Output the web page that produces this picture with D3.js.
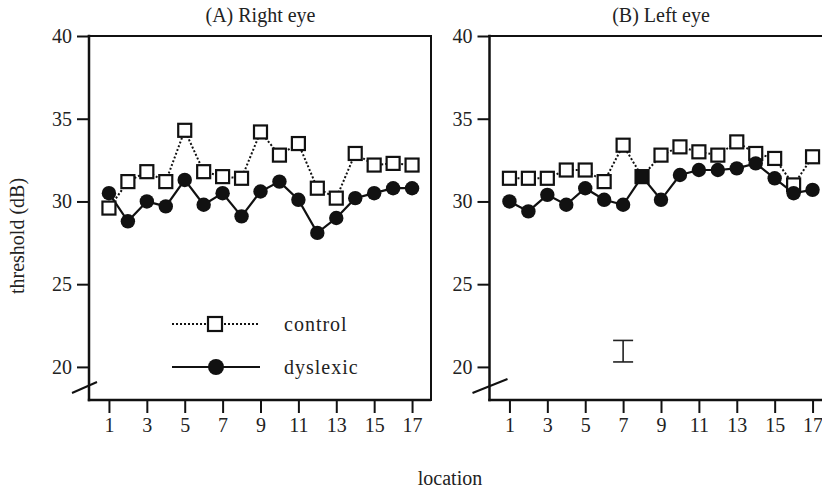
<!DOCTYPE html>
<html>
<head>
<meta charset="utf-8">
<script src="https://cdn.jsdelivr.net/npm/d3@7"></script>
<style>
  body { margin: 0; background: #fff; }
  text { font-family: "Liberation Serif", "DejaVu Serif", serif; fill: #222; }
</style>
</head>
<body>
<script>
// values (threshold in dB, per test location)
const locations = [1, 2, 3, 4, 5, 6, 7, 8, 9, 10, 11, 12, 13, 14, 15, 16, 17];
const rightControl = [29.6, 31.2, 31.8, 31.2, 34.3, 31.8, 31.5, 31.4, 34.2, 32.8, 33.5, 30.8, 30.2, 32.9, 32.2, 32.3, 32.2];
const rightDyslexic = [30.5, 28.8, 30.0, 29.7, 31.3, 29.8, 30.5, 29.1, 30.6, 31.2, 30.1, 28.1, 29.0, 30.2, 30.5, 30.8, 30.8];
const leftControl = [31.4, 31.4, 31.4, 31.9, 31.9, 31.2, 33.4, 31.5, 32.8, 33.3, 33.0, 32.8, 33.6, 32.9, 32.6, 31.0, 32.7];
const leftDyslexic = [30.0, 29.4, 30.4, 29.8, 30.8, 30.1, 29.8, 31.5, 30.1, 31.6, 31.9, 31.9, 32.0, 32.3, 31.4, 30.5, 30.7];
const yTicks = [20, 25, 30, 35, 40];
const xTicks = [1, 3, 5, 7, 9, 11, 13, 15, 17];
const errLocation = 7;
const errRange = [20.3, 21.6];

const W = 822, H = 491;
const plotTop = 36, plotBottom = 400, panelW = 341;
const fontSize = 20;

const svg = d3.select("body").append("svg")
  .attr("width", W)
  .attr("height", H);

const y = d3.scaleLinear().domain([18, 40]).range([plotBottom, plotTop]);

const drawPanel = (x0, title, control, dyslexic, boxed) => {
  const x = d3.scaleLinear().domain([0, 18]).range([x0, x0 + panelW]);
  const g = svg.append("g");

  // frame
  g.append("line").attr("x1", x0 - 1).attr("x2", x0 - 1).attr("y1", plotTop - 1.2).attr("y2", plotBottom + 1.2)
    .attr("stroke", "#111").attr("stroke-width", 2.5);
  g.append("line").attr("x1", x0 - 2.2).attr("x2", x0 + panelW).attr("y1", plotBottom).attr("y2", plotBottom)
    .attr("stroke", "#111").attr("stroke-width", 2.5);
  g.append("line").attr("x1", x0 - 2.2).attr("x2", x0 + panelW).attr("y1", plotTop).attr("y2", plotTop)
    .attr("stroke", "#111").attr("stroke-width", 2);
  if (boxed) {
    g.append("line").attr("x1", x0 + panelW).attr("x2", x0 + panelW).attr("y1", plotTop - 1).attr("y2", plotBottom + 1)
      .attr("stroke", "#111").attr("stroke-width", 2);
  }

  // axis break mark
  g.append("line")
    .attr("x1", x0 - 18).attr("y1", plotBottom - 7)
    .attr("x2", x0 + (boxed ? 7 : 17)).attr("y2", plotBottom - (boxed ? 18 : 21))
    .attr("stroke", "#111").attr("stroke-width", 2);

  // axes
  const yAxis = g.append("g")
    .attr("transform", `translate(${x0 - 1},0)`)
    .call(d3.axisLeft(y).tickValues(yTicks).tickSize(12).tickPadding(5));
  yAxis.select(".domain").remove();
  yAxis.selectAll("line").attr("stroke", "#111").attr("stroke-width", 2);
  yAxis.selectAll("text").style("font-size", fontSize + "px").attr("fill", "#222");

  const xAxis = g.append("g")
    .attr("transform", `translate(0,${plotBottom})`)
    .call(d3.axisBottom(x).tickValues(xTicks).tickSize(13).tickPadding(5));
  xAxis.select(".domain").remove();
  xAxis.selectAll("line").attr("stroke", "#111").attr("stroke-width", 2);
  xAxis.selectAll("text").style("font-size", fontSize + "px").attr("fill", "#222");

  g.append("text")
    .attr("x", x0 + panelW / 2)
    .attr("y", 22)
    .attr("text-anchor", "middle")
    .style("font-size", fontSize + "px")
    .text(title);

  const line = d3.line().x((d, i) => x(locations[i])).y(d => y(d));

  g.append("path").datum(control)
    .attr("d", line).attr("fill", "none")
    .attr("stroke", "#111").attr("stroke-width", 2).attr("stroke-dasharray", "2,2");
  g.append("path").datum(dyslexic)
    .attr("d", line).attr("fill", "none")
    .attr("stroke", "#111").attr("stroke-width", 2.2);

  g.selectAll("rect.ctl")
    .data(control)
    .join("rect")
    .attr("class", "ctl")
    .attr("x", (d, i) => x(locations[i]) - 6.5)
    .attr("y", d => y(d) - 6.5)
    .attr("width", 13).attr("height", 13)
    .attr("fill", (d, i) => Math.abs(d - dyslexic[i]) < 0.05 ? "#111" : "#fff")
    .attr("stroke", "#111").attr("stroke-width", 2.2);

  g.selectAll("circle.dys")
    .data(dyslexic)
    .join("circle")
    .attr("class", "dys")
    .attr("cx", (d, i) => x(locations[i]))
    .attr("cy", d => y(d))
    .attr("r", (d, i) => Math.abs(d - control[i]) < 0.05 ? 0 : 7.2)
    .attr("fill", "#111");

  return { g, x };
};

const pA = drawPanel(90, "(A) Right eye", rightControl, rightDyslexic, true);
const pB = drawPanel(490.5, "(B) Left eye", leftControl, leftDyslexic, false);

// legend (panel A)
const legend = pA.g.append("g");
const legendItems = [
  { name: "control", dash: "2,2", ly: 324 },
  { name: "dyslexic", dash: null, ly: 367 }
];
legendItems.forEach(item => {
  legend.append("line")
    .attr("x1", 172).attr("x2", item.dash ? 258 : 260)
    .attr("y1", item.ly).attr("y2", item.ly)
    .attr("stroke", "#111").attr("stroke-width", 2)
    .attr("stroke-dasharray", item.dash);
  if (item.dash) {
    legend.append("rect")
      .attr("x", 215 - 7).attr("y", item.ly - 7)
      .attr("width", 14).attr("height", 14)
      .attr("fill", "#fff").attr("stroke", "#111").attr("stroke-width", 2.2);
  } else {
    legend.append("circle")
      .attr("cx", 216).attr("cy", item.ly).attr("r", 8).attr("fill", "#111");
  }
  legend.append("text")
    .attr("x", 284).attr("y", item.ly + 7)
    .style("font-size", fontSize + "px")
    .style("letter-spacing", "1px")
    .text(item.name);
});

// error bar (panel B)
const ex = pB.x(errLocation);
pB.g.append("line")
  .attr("x1", ex).attr("x2", ex).attr("y1", y(errRange[0])).attr("y2", y(errRange[1]))
  .attr("stroke", "#222").attr("stroke-width", 1.6);
errRange.forEach(v => {
  pB.g.append("line")
    .attr("x1", ex - 10).attr("x2", ex + 10).attr("y1", y(v)).attr("y2", y(v))
    .attr("stroke", "#222").attr("stroke-width", 1.6);
});

// axis titles
svg.append("text")
  .attr("transform", `translate(24,${236}) rotate(-90)`)
  .attr("text-anchor", "middle")
  .style("font-size", fontSize + "px")
  .text("threshold (dB)");

svg.append("text")
  .attr("x", 450)
  .attr("y", 485)
  .attr("text-anchor", "middle")
  .style("font-size", fontSize + "px")
  .text("location");
</script>
</body>
</html>
